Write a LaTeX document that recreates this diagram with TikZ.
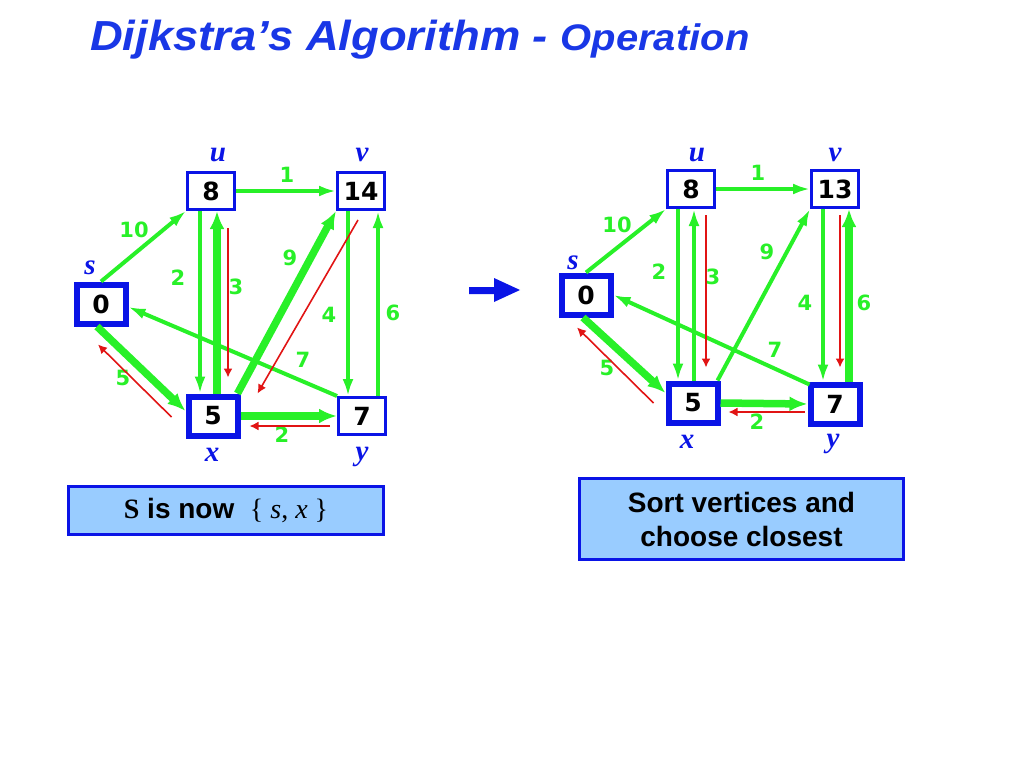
\documentclass[tikz,border=0pt]{standalone}
\usepackage{fontspec}
\usepackage{graphicx}
\setmainfont{Liberation Sans}
\newfontfamily\valfont{DejaVu Sans}
\newfontfamily\timesfont{Liberation Serif}
\usetikzlibrary{arrows.meta}
\definecolor{titleblue}{RGB}{25,55,230}
\definecolor{boxblue}{RGB}{10,20,230}
\definecolor{edgegreen}{RGB}{40,240,40}
\definecolor{predred}{RGB}{225,20,20}
\definecolor{notefill}{RGB}{153,204,255}
\tikzset{
  vtx/.style={draw=boxblue, fill=white, line width=3pt, minimum width=47pt, minimum height=37pt, inner sep=0pt, font=\valfont\bfseries\fontsize{25}{25}\selectfont},
  vtxdone/.style={vtx, line width=6pt, minimum width=49pt, minimum height=39pt},
  vname/.style={text=boxblue, font=\timesfont\bfseries\itshape\fontsize{29}{29}\selectfont},
  wt/.style={text=edgegreen, font=\valfont\bfseries\fontsize{21}{21}\selectfont},
  link/.style={edgegreen, line width=4pt, -{Latex[length=17pt,width=11pt]}},
  treelink/.style={link, line width=7.5pt, -{Latex[length=18pt,width=15pt]}},
  pred/.style={predred, line width=1.6pt, -{Latex[length=9pt,width=9pt]}},
  note/.style={draw=boxblue, fill=notefill, line width=3pt, inner sep=0pt, font=\bfseries\fontsize{28}{34}\selectfont, align=center}
}
\begin{document}
\begin{tikzpicture}[x=1pt,y=-1pt]
    \useasboundingbox (0,0) rectangle (1024,768);
    \node[anchor=base west, inner sep=0pt, text=titleblue, font=\bfseries\itshape] (title) at (90,51)
        {\scalebox{1.08}[1]{\fontsize{42}{42}\selectfont Dijkstra’s Algorithm - \fontsize{37}{37}\selectfont Operation}};
    % before
    \node[vtxdone] (sL) at (101,304) {0};
    \node[vtx] (uL) at (211,191) {8};
    \node[vtx] (vL) at (361,191) {14};
    \node[vtxdone] (xL) at (213,416) {5};
    \node[vtx] (yL) at (362,416) {7};
    \node[vname] (sLn) at (90,268) {s};
    \node[vname] (uLn) at (218,155) {u};
    \node[vname] (vLn) at (362,155) {v};
    \node[vname] (xLn) at (212,455) {x};
    \node[vname] (yLn) at (362,457) {y};
    \draw[link] (sL.north) -- (uL.south west);
    \draw[link] (uL.east) -- (vL.west);
    \draw[link] ([xshift=-11pt]uL.south) -- ([xshift=-13pt]xL.north);
    \draw[treelink] ([xshift=4pt]xL.north) -- ([xshift=6pt]uL.south);
    \draw[treelink] ([xshift=-3pt]xL.north east) -- (vL.south west);
    \draw[link] ([xshift=-13pt]vL.south) -- ([xshift=-14pt]yL.north);
    \draw[link] ([xshift=16pt]yL.north) -- ([xshift=17pt]vL.south);
    \draw[link] (yL.north west) -- ([yshift=-3pt]sL.east);
    \draw[treelink] ([xshift=-4pt]sL.south) -- ([yshift=5pt]xL.west);
    \draw[treelink] (xL.east) -- (yL.west);
    \node[wt] (w10L) at (134,230) {10};
    \node[wt] (w1L) at (287,175) {1};
    \node[wt] (w2L) at (178,278) {2};
    \node[wt] (w3L) at (236,287) {3};
    \node[wt] (w9L) at (290,258) {9};
    \node[wt] (w4L) at (329,315) {4};
    \node[wt] (w6L) at (393,313) {6};
    \node[wt] (w7L) at (303,360) {7};
    \node[wt] (w5L) at (123,378) {5};
    \node[wt] (w2bL) at (282,435) {2};
    \draw[pred] ([shift={(17pt,-17pt)}]uL.south) -- ([shift={(15pt,16pt)}]xL.north);
    \draw[pred] ([shift={(-3pt,-9pt)}]vL.south) -- ([xshift=17pt]xL.north east);
    \draw[pred] ([shift={(-14pt,-1pt)}]xL.west) -- ([shift={(-3pt,-18pt)}]sL.south);
    \draw[pred] ([shift={(-7pt,-10pt)}]yL.west) -- ([shift={(9pt,-10pt)}]xL.east);
    % step arrow
    \fill[boxblue] (469,287) -- (494,287) -- (494,278) -- (520,290) -- (494,302) -- (494,294) -- (469,294) -- cycle;
    % after
    \node[vtxdone] (sR) at (586,295) {0};
    \node[vtx] (uR) at (691,189) {8};
    \node[vtx] (vR) at (835,189) {13};
    \node[vtxdone] (xR) at (693,403) {5};
    \node[vtxdone] (yR) at (835,404) {7};
    \node[vname] (sRn) at (573,263) {s};
    \node[vname] (uRn) at (697,155) {u};
    \node[vname] (vRn) at (835,155) {v};
    \node[vname] (xRn) at (687,442) {x};
    \node[vname] (yRn) at (833,444) {y};
    \draw[link] (sR.north) -- (uR.south west);
    \draw[link] (uR.east) -- (vR.west);
    \draw[link] ([xshift=-13pt]uR.south) -- ([xshift=-15pt]xR.north);
    \draw[link] ([xshift=1pt]xR.north) -- ([xshift=3pt]uR.south);
    \draw[link] ([xshift=-3pt]xR.north east) -- (vR.south west);
    \draw[link] ([xshift=-12pt]vR.south) -- ([xshift=-12pt]yR.north);
    \draw[treelink] ([xshift=14pt]yR.north) -- ([xshift=14pt]vR.south);
    \draw[link] ([shift={(2pt,-3pt)}]yR.north west) -- (sR.east);
    \draw[treelink] ([xshift=-3pt]sR.south) -- ([yshift=10pt]xR.west);
    \draw[treelink] (xR.east) -- (yR.west);
    \node[wt] (w10R) at (617,225) {10};
    \node[wt] (w1R) at (758,173) {1};
    \node[wt] (w2R) at (659,272) {2};
    \node[wt] (w3R) at (713,277) {3};
    \node[wt] (w9R) at (767,252) {9};
    \node[wt] (w4R) at (805,303) {4};
    \node[wt] (w6R) at (864,303) {6};
    \node[wt] (w7R) at (775,350) {7};
    \node[wt] (w5R) at (607,368) {5};
    \node[wt] (w2bR) at (757,422) {2};
    \draw[pred] ([shift={(15pt,-6pt)}]uR.south) -- ([shift={(13pt,13pt)}]xR.north);
    \draw[pred] ([shift={(5pt,-6pt)}]vR.south) -- ([shift={(5pt,14pt)}]yR.north);
    \draw[pred] ([xshift=-12pt]xR.west) -- ([shift={(-9pt,-10pt)}]sR.south);
    \draw[pred] ([shift={(-3pt,-8pt)}]yR.west) -- ([shift={(8pt,-9pt)}]xR.east);
    % notes
    \node[note, minimum width=315pt, minimum height=48pt] (setbox) at (226,510.5)
        {{\timesfont S} is now\ \ {\timesfont\mdseries \{ \textit{s}, \textit{x} \}}};
    \node[note, minimum width=324pt, minimum height=81pt] (sortbox) at (741.5,519)
        {Sort vertices and\\ choose closest};
\end{tikzpicture}
\end{document}
